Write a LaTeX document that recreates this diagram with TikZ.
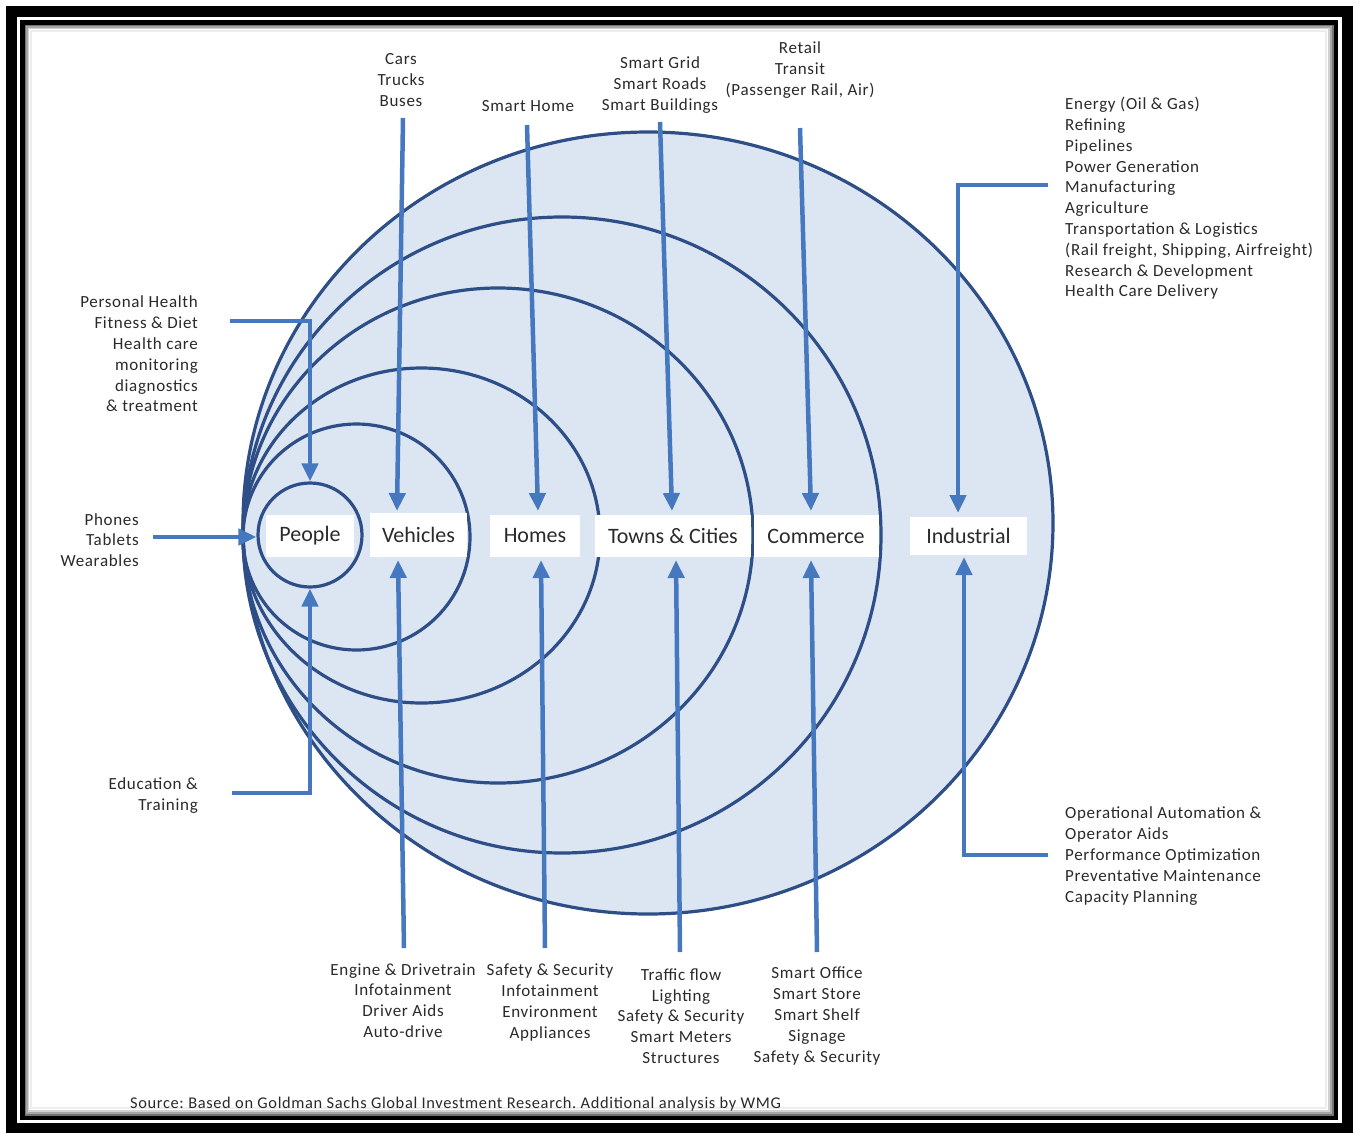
\documentclass[tikz,border=0pt]{standalone}
\usepackage{fontspec}
\setmainfont{Carlito}
\newfontfamily\annfont[LetterSpace=4]{Carlito}
\usetikzlibrary{arrows.meta,calc}
\frenchspacing
\definecolor{navy}{HTML}{2E4E87}
\definecolor{arrblue}{HTML}{4678C0}
\definecolor{fillblue}{HTML}{DCE6F2}
\definecolor{txt}{HTML}{2A2A2A}
\tikzset{
  ring/.style={draw=navy, line width=3.2pt},
  arr/.style={draw=arrblue, line width=4.5pt, -{Triangle[length=18pt,width=16pt]}},
  lbl/.style={fill=white, inner sep=0pt, minimum height=42pt, text=txt, font=\fontsize{22}{26}\selectfont},
  ann/.style={inner sep=0pt, text=txt, align=center, font=\annfont\fontsize{17}{20.8}\selectfont},
}
\begin{document}
\begin{tikzpicture}[x=1pt,y=-1pt]
\useasboundingbox (0,0) rectangle (1353,1133);
\fill[white] (0,0) rectangle (1353,1133);
% frame
\draw[black, line width=11pt] (11.5,11.5) rectangle (1347.5,1128.5);
\draw[black, line width=4.5pt] (22.5,22.5) rectangle (1336,1118);
\draw[black!55, line width=1.5pt] (25.5,25.5) rectangle (1333,1115);
\draw[black!35, line width=1.5pt] (27,27) rectangle (1331,1113);
\draw[black!18, line width=1.5pt] (28.5,28.5) rectangle (1329,1111);
\draw[black!7, line width=2pt] (30.5,30.5) rectangle (1326,1108);
% circles
\fill[fillblue] (648,523) ellipse [x radius=405pt, y radius=391pt];
\draw[ring] (648,523) ellipse [x radius=405pt, y radius=391pt];
\draw[ring] (562,535) ellipse [x radius=319pt, y radius=318pt];
\draw[ring] (498,535.5) ellipse [x radius=255pt, y radius=247.5pt];
\draw[ring] (421.5,535.5) ellipse [x radius=178.5pt, y radius=167.5pt];
\draw[ring] (356.5,537) ellipse [x radius=113.5pt, y radius=113pt];
\node[ring, circle, minimum size=104pt, inner sep=0pt, fill=fillblue] (pc) at (310,535) {};
% label boxes
\node[lbl, minimum width=88pt] (people) at (310,536) {People};
\node[lbl, minimum width=97pt, minimum height=44pt] (vehicles) at (418.5,535) {Vehicles};
\node[lbl, minimum width=90pt] (homes) at (535,536) {Homes};
\node[lbl, minimum width=156pt] (towns) at (673,536) {Towns \& Cities};
\node[lbl, minimum width=125pt] (commerce) at (816,536) {Commerce};
\node[lbl, minimum width=117pt, minimum height=38pt] (industrial) at (968.5,536) {Industrial};
% annotations
\node[ann] (tCars) at (401,80) {Cars\\Trucks\\Buses};
\node[ann] (tHome) at (528,106) {Smart Home};
\node[ann] (tGrid) at (660,85) {Smart Grid\\Smart Roads\\Smart Buildings};
\node[ann] (tRetail) at (800,70) {Retail\\Transit\\(Passenger Rail, Air)};
\node[ann, anchor=west, align=left] (tInd) at (1065,198.5) {Energy (Oil \& Gas)\\Refining\\Pipelines\\Power Generation\\Manufacturing\\Agriculture\\Transportation \& Logistics\\(Rail freight, Shipping, Airfreight)\\Research \& Development\\Health Care Delivery};
\node[ann, anchor=east, align=right] (lHealth) at (198,354) {Personal Health\\Fitness \& Diet\\Health care\\monitoring\\diagnostics\\\& treatment};
\node[ann, anchor=east, align=right] (lPhones) at (139,540) {Phones\\Tablets\\Wearables};
\node[ann, anchor=east, align=right] (lEdu) at (198,795.5) {Education \&\\Training};
\node[ann] (bEngine) at (403,1000.5) {Engine \& Drivetrain\\Infotainment\\Driver Aids\\Auto-drive};
\node[ann] (bSafety) at (550,1002.5) {Safety \& Security\\Infotainment\\Environment\\Appliances};
\node[ann] (bTraffic) at (681,1016) {Traffic flow\\Lighting\\Safety \& Security\\Smart Meters\\Structures};
\node[ann] (bOffice) at (817,1016) {Smart Office\\Smart Store\\Smart Shelf\\Signage\\Safety \& Security};
\node[ann, anchor=west, align=left] (rOps) at (1065,856) {Operational Automation \&\\Operator Aids\\Performance Optimization\\Preventative Maintenance\\Capacity Planning};
\node[inner sep=0pt, anchor=west, text=txt, font=\annfont\fontsize{16.4}{18}\selectfont] (source) at (130,1104) {Source: Based on Goldman Sachs Global Investment Research. Additional analysis by WMG};
% arrow coordinates
\coordinate (sCars) at (403,118); \coordinate (eCars) at (397,511);
\coordinate (sHome) at (527,125); \coordinate (eHome) at (538,511);
\coordinate (sGrid) at (660,122); \coordinate (eGrid) at (672,511);
\coordinate (sRet) at (800,128); \coordinate (eRet) at (811,511);
\coordinate (sIndT) at (1048,185); \coordinate (eIndT) at (958,513);
\coordinate (sEng) at (404,948); \coordinate (eEng) at (398,560);
\coordinate (sSaf) at (545,948); \coordinate (eSaf) at (541,560);
\coordinate (sTra) at (680,952); \coordinate (eTra) at (676,560);
\coordinate (sOff) at (817,952); \coordinate (eOff) at (811,560);
\coordinate (sIndB) at (1048,855); \coordinate (eIndB) at (964,557);
\coordinate (sHealth) at (230,321);
\coordinate (sPh) at (153,537);
\coordinate (sEdu) at (232,793);
% arrows
\draw[arr] (sCars) -- (eCars);
\draw[arr] (sHome) -- (eHome);
\draw[arr] (sGrid) -- (eGrid);
\draw[arr] (sRet) -- (eRet);
\draw[arr] (sIndT) -| (eIndT);
\draw[arr] (sEng) -- (eEng);
\draw[arr] (sSaf) -- (eSaf);
\draw[arr] (sTra) -- (eTra);
\draw[arr] (sOff) -- (eOff);
\draw[arr] (sIndB) -| (eIndB);
\draw[arr] (sHealth) -| (pc.north);
\draw[arr] (sPh) -- (pc.west |- sPh);
\draw[arr] (sEdu) -| (pc.south);
\end{tikzpicture}
\end{document}
